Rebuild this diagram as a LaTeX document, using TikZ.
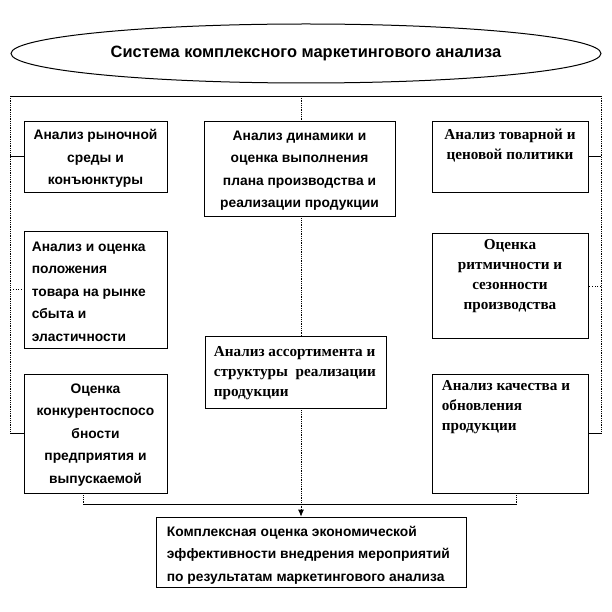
\documentclass[tikz,border=0pt]{standalone}
\usepackage{fontspec}
\setmainfont{Liberation Sans}
\newfontfamily\serifface{Liberation Serif}
\usetikzlibrary{shapes.geometric,arrows.meta}
\begin{document}
\begin{tikzpicture}[x=1pt,y=-1pt,
  abox/.style={draw=black,line width=0.7pt,inner sep=0pt},
  sanstxt/.style={font=\fontsize{13.8}{22.5}\selectfont\bfseries,inner sep=0pt},
  seriftxt/.style={font=\serifface\fontsize{15.2}{20}\selectfont\bfseries,inner sep=0pt},
  hline/.style={line width=0.8pt},
  vdot/.style={line width=0.8pt,densely dotted},
  conn/.style={line width=0.8pt}
]
\useasboundingbox (0,0) rectangle (612,612);

% title
\node[ellipse,draw=black,line width=1pt,minimum width=590pt,minimum height=59pt,inner sep=0pt,
      font=\fontsize{16.4}{19}\selectfont\bfseries] (T) at (306,53.5)
      {Система комплексного маркетингового анализа};

% boxes
\node[abox,minimum width=143pt,minimum height=71pt]  (L1) at (95.5,156.5) {};
\node[abox,minimum width=143pt,minimum height=117pt] (L2) at (95.5,289.5) {};
\node[abox,minimum width=143pt,minimum height=119pt] (L3) at (95.5,433.5) {};
\node[abox,minimum width=191pt,minimum height=95pt]  (M1) at (299.5,168.5) {};
\node[abox,minimum width=181pt,minimum height=72pt]  (M2) at (295.5,372) {};
\node[abox,minimum width=156pt,minimum height=71pt]  (R1) at (510,156.5) {};
\node[abox,minimum width=156pt,minimum height=105pt] (R2) at (510,286) {};
\node[abox,minimum width=156pt,minimum height=119pt] (R3) at (510,433.5) {};
\node[abox,minimum width=310pt,minimum height=70pt]  (B)  at (311,552) {};

% texts
\node[sanstxt,align=center] (tL1) at ([yshift=-2pt]L1.center) {Анализ рыночной\\среды и\\конъюнктуры};
\node[sanstxt,align=left,anchor=west] (tL2) at ([xshift=8pt,yshift=-2pt]L2.west) {Анализ и оценка\\положения\\товара на рынке\\сбыта и\\эластичности};
\node[sanstxt,align=center] (tL3) at ([yshift=-1.5pt]L3.center) {Оценка\\конкурентоспосо\\бности\\предприятия и\\выпускаемой};
\node[sanstxt,align=center] (tM1) at ([yshift=-2pt]M1.center) {Анализ динамики и\\оценка выполнения\\плана производства и\\реализации продукции};
\node[seriftxt,align=left,anchor=west] (tM2) at ([xshift=9pt,yshift=-1pt]M2.west) {Анализ ассортимента и\\структуры\ \ реализации\\продукции};
\node[seriftxt,align=center,anchor=north] (tR1) at ([yshift=-8pt]R1.north) {Анализ товарной и\\ценовой политики};
\node[seriftxt,align=center,anchor=north] (tR2) at ([yshift=-6pt]R2.north) {Оценка\\ритмичности и\\сезонности\\производства};
\node[seriftxt,align=left,anchor=north west] (tR3) at ([xshift=10pt,yshift=-7pt]R3.north west) {Анализ качества и\\обновления\\продукции};
\node[sanstxt,align=left,anchor=west] (tB) at ([xshift=11pt,yshift=-3pt]B.west) {Комплексная оценка экономической\\эффективности внедрения мероприятий\\по результатам маркетингового анализа};

% frame connectors
\coordinate (TL) at (10,96);
\coordinate (TR) at (601,96);
\coordinate (TM) at (301,96);
\draw[hline] (TL) -- (TR);
\draw[vdot] (TL) -- (TL |- L3.west);
\draw[vdot] (TR) -- (TR |- R3.east);
\draw[conn] (TL |- L1.west) -- (L1.west);
\draw[line width=0.8pt,dotted] (TL |- L2.west) -- (L2.west);
\draw[conn] (TL |- L3.west) -- (L3.west);
\draw[conn] (TR |- R1.east) -- (R1.east);
\draw[line width=0.8pt,dotted] (TR |- R2.east) -- (R2.east);
\draw[conn] (TR |- R3.east) -- (R3.east);

% middle line
\draw[vdot] (TM) -- (TM |- M1.north);
\draw[vdot] (TM |- M1.south) -- (TM |- M2.north);
\draw[vdot,-{Latex[length=7pt,width=6pt]}] (TM |- M2.south) -- (TM |- B.north);

% bottom collector
\draw[vdot] ([xshift=-12.5pt]L3.south) -- ++(0,11) coordinate (BL);
\draw[vdot] ([xshift=6pt]R3.south) -- ++(0,11) coordinate (BR);
\draw[hline] (BL) -- (BR);
\end{tikzpicture}
\end{document}
